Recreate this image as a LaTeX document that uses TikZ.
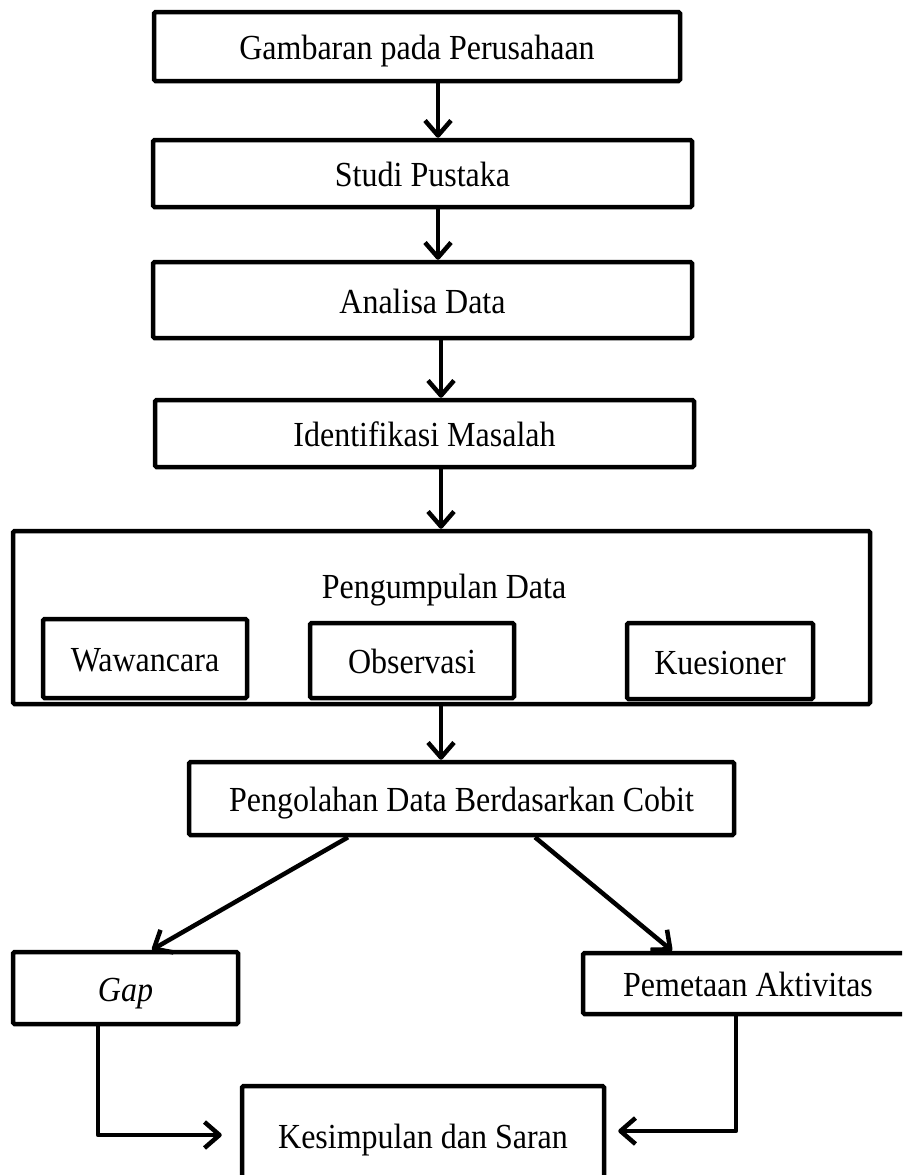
\documentclass[tikz,border=0pt]{standalone}
\usepackage{fontspec}
\setmainfont{Liberation Serif}
\usetikzlibrary{arrows.meta}
\newcommand\tallt[1]{\scalebox{1}[1.1]{#1}}
\begin{document}
\begin{tikzpicture}[x=1pt,y=-1pt,
  lbl/.style={inner sep=0pt, font=\fontsize{32}{38}\selectfont, text height=26pt, text depth=0pt},
  box/.style={lbl, draw, line width=4.5pt, rounded corners=1.5pt},
  arr/.style={line width=4.5pt, line join=round, -{Straight Barb[length=15pt,width=26pt,line join=round]}},
]
\useasboundingbox (0,0) rectangle (902,1175);
\clip (0,0) rectangle (902,1175);

\node[box, minimum width=526pt, minimum height=69pt] (b1) at (417,46.5) {\tallt{Gambaran pada Perusahaan}};
\node[box, minimum width=539pt, minimum height=67pt] (b2) at (422.5,173.5) {\tallt{Studi Pustaka}};
\node[box, minimum width=539pt, minimum height=76pt] (b3) at (422.5,300) {\tallt{Analisa Data}};
\node[box, minimum width=539pt, minimum height=67pt] (b4) at (424.5,433.5) {\tallt{Identifikasi Masalah}};

\node[box, minimum width=857pt, minimum height=173pt] (pd) at (441.5,617.5) {};
\node[lbl] (pdt) at (444,585) {\tallt{Pengumpulan Data}};
\node[box, minimum width=204pt, minimum height=79pt] (w) at (145,658.5) {\tallt{Wawancara}};
\node[box, minimum width=204pt, minimum height=75pt] (o) at (412,660.5) {\tallt{Observasi}};
\node[box, minimum width=186pt, minimum height=76pt] (k) at (720,661) {\tallt{Kuesioner}};

\node[box, minimum width=545pt, minimum height=73pt] (pg) at (461.5,798.5) {\tallt{Pengolahan Data Berdasarkan Cobit}};
\node[box, minimum width=225pt, minimum height=72pt] (gap) at (125.5,988) {\tallt{\itshape Gap}};
\node[box, minimum width=330pt, minimum height=61pt] (pm) at (748,983.5) {\tallt{Pemetaan Aktivitas}};
\node[box, minimum width=362pt, minimum height=98pt] (ks) at (423,1135) {\tallt{Kesimpulan dan Saran}};

\coordinate (sp) at (438,0);
\coordinate (sq) at (441,0);
\draw[arr] (b1.south -| sp) -- (b2.north -| sp);
\draw[arr] (b2.south -| sp) -- (b3.north -| sp);
\draw[arr] (b3.south -| sq) -- (b4.north -| sq);
\draw[arr] (b4.south -| sq) -- (pd.north -| sq);
\draw[arr] (pd.south -| sq) -- (pg.north -| sq);

\draw[arr] ([xshift=-113.5pt]pg.south) -- ([xshift=26.5pt]gap.north);
\draw[arr] ([xshift=73.5pt]pg.south) -- ([xshift=-76pt]pm.north);
\draw[arr] ([xshift=-27.5pt]gap.south) |- ([xshift=-18pt]ks.west);
\draw[arr] ([xshift=-12pt]pm.south) |- ([xshift=12pt,yshift=4pt]ks.east);
\end{tikzpicture}
\end{document}
